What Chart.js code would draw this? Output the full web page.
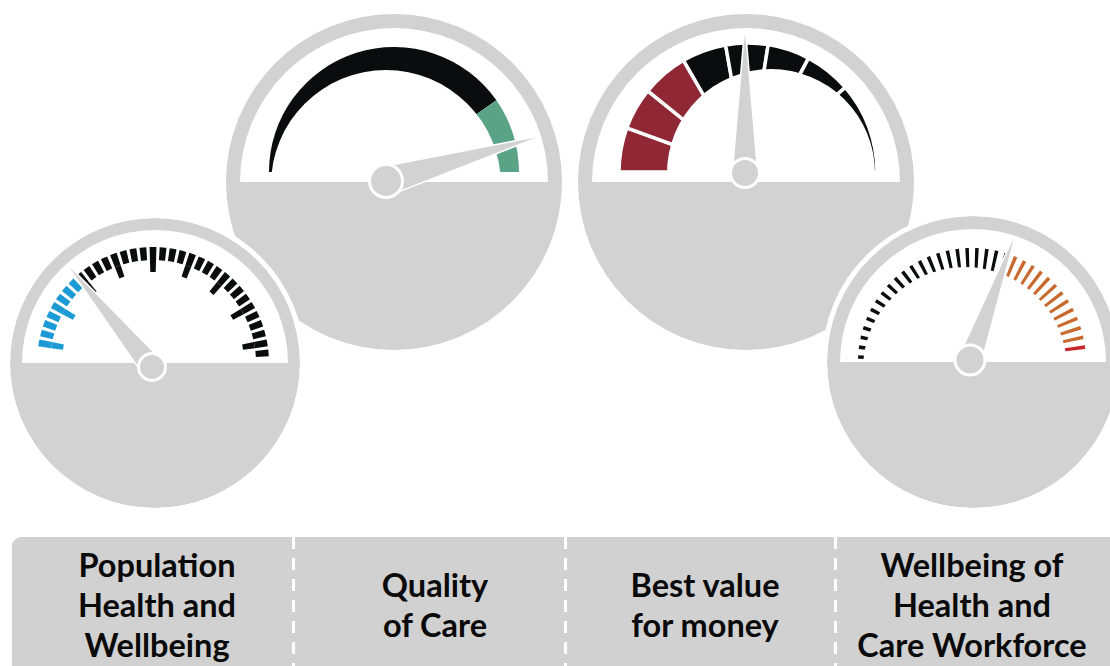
<!DOCTYPE html>
<html>
<head>
<meta charset="utf-8">
<script src="https://cdn.jsdelivr.net/npm/chart.js@4.4.1/dist/chart.umd.min.js"></script>
<style>
html,body{margin:0;padding:0;background:#fff;width:1110px;height:666px;overflow:hidden;}
#stage{position:relative;width:1110px;height:666px;overflow:hidden;}
canvas.layer{position:absolute;}
#bar{position:absolute;left:12px;top:537px;width:1120px;height:140px;background:#d1d1d1;border-radius:9px;}
.lbl{position:absolute;top:537px;height:136px;display:flex;align-items:center;justify-content:center;text-align:center;
  font-family:Lato,"Open Sans",sans-serif;font-weight:700;font-size:32.5px;line-height:40px;color:#0a0a0a;
  transform:translateX(-50%);white-space:nowrap;}
.sep{position:absolute;top:537px;width:3px;height:140px;
  background:repeating-linear-gradient(to bottom,#fff 0 12px,rgba(255,255,255,0) 12px 21px);}
</style>
</head>
<body>
<div id="stage"></div>
<script>
// ---------------- data ----------------
const categories = ['Population Health and Wellbeing','Quality of Care','Best value for money','Wellbeing of Health and Care Workforce'];
const labelLines = [['Population','Health and','Wellbeing'],['Quality','of Care'],['Best value','for money'],['Wellbeing of','Health and','Care Workforce']];
const labelCenters = [157, 435, 705, 972];
const separators = [293, 565, 835];

// needle readings, % of the dial sweep (0 = far left, 100 = far right)
const needleValues = [28, 91, 50, 61];

// Quality of Care dial bands (degrees of sweep, left to right)
const qualityBands = [145, 35];
const qualityColors = ['#0b0c0e', '#5ba387'];

// Best value for money dial bands (degrees of sweep, left to right)
const valueBands = [20, 19, 21, 20, 19, 19, 21, 41];
const valueColors = ['#8f2834','#8f2834','#8f2834','#0b0c0e','#0b0c0e','#0b0c0e','#0b0c0e','#0b0c0e'];

// Population Health dial tick marks (angle in degrees, 180 = left, 0 = right)
const popTickAngles = [170,165,160,155,150,145,140,135,130,125,120,115,110,105,100,95,90,85,80,75,70,65,60,55,50,45,40,35,30,25,20,15,10,5];
const popMajorTicks = [170,150,130,110,90,70,50,30,10];
const popBlueFrom = 135;      // ticks at or above this angle are blue

// Workforce dial tick marks
const workTickAngles = [177.5,172.5,167.5,162.5,157.5,152.5,147.5,142.5,137.5,132.5,127.5,122.5,117.5,112.5,107.5,102.5,97.5,92.5,87.5,82.5,77.5,72.5,67.5,62.5,57.5,52.5,47.5,42.5,37.5,32.5,27.5,22.5,17.5,12.5,7.5];
const workOrangeFrom = 67.5;  // ticks at or below this angle are orange
const workRedTick = 7.5;

// ---------------- styling ----------------
const GRAY = '#d2d2d2', WHITE = '#ffffff', NONE = 'rgba(0,0,0,0)';
const BLUE = '#1b9ad6', BLACK = '#0b0c0e', ORANGE = '#c8692d', RED = '#c9262a';

const stage = document.getElementById('stage');

const needlePlugin = {
  id: 'needle',
  afterDatasetsDraw(chart, args, o) {
    if (!o || o.value === undefined) return;
    const arc = chart.getDatasetMeta(0).data[0];
    const ctx = chart.ctx;
    const cx = arc.x + o.hubDx, cy = arc.y + o.hubDy;
    const ang = Math.PI - o.value / 100 * Math.PI;
    const ux = Math.cos(ang), uy = -Math.sin(ang);
    const px = -uy, py = ux;
    ctx.save();
    ctx.beginPath();
    ctx.moveTo(cx + px * o.halfWidth, cy + py * o.halfWidth);
    ctx.lineTo(cx + ux * o.length, cy + uy * o.length);
    ctx.lineTo(cx - px * o.halfWidth, cy - py * o.halfWidth);
    ctx.closePath();
    ctx.lineWidth = 3; ctx.strokeStyle = WHITE; ctx.lineJoin = 'round'; ctx.stroke();
    ctx.fillStyle = GRAY; ctx.fill();
    ctx.beginPath();
    ctx.arc(cx, cy, o.hubR, 0, Math.PI * 2);
    ctx.fillStyle = GRAY; ctx.fill();
    ctx.lineWidth = 3; ctx.strokeStyle = WHITE; ctx.stroke();
    ctx.restore();
  }
};

function layer(cx, cy, radius, cutoutPx, datasets, needle) {
  let size = Math.ceil(2 * radius + 10); if (size % 2) size++;
  const c = document.createElement('canvas');
  c.width = size; c.height = size; c.className = 'layer';
  c.style.left = (cx - size / 2) + 'px'; c.style.top = (cy - size / 2) + 'px';
  c.style.width = size + 'px'; c.style.height = size + 'px';
  stage.appendChild(c);
  return new Chart(c, {
    type: 'doughnut',
    data: { datasets: datasets },
    options: {
      responsive: false, animation: false, events: [], devicePixelRatio: 1,
      rotation: -90, circumference: 360,
      radius: radius, cutout: (cutoutPx / radius * 100) + '%',
      layout: { padding: 0 },
      plugins: { legend: { display: false }, tooltip: { enabled: false }, needle: needle || {} }
    },
    plugins: [needlePlugin]
  });
}

function ds(data, colors, weight, border) {
  return {
    data: data, backgroundColor: colors, weight: weight,
    borderWidth: colors.map(c => (c === NONE ? 0 : (border || 0))),
    borderColor: WHITE, hoverOffset: 0
  };
}

// full gray dial body (with white outline for dials that sit in front)
function base(cx, cy, rg, outline) {
  const sets = [];
  if (outline) sets.push(ds([360], [WHITE], outline));
  sets.push(ds([360], [GRAY], rg));
  layer(cx, cy, rg + outline, 0, sets);
}
// white top-half face
function face(cx, cy, rf) {
  layer(cx, cy, rf, 0, [ds([180, 180], [WHITE, NONE], 1)]);
}
// gray lower half + needle/hub on top
function cover(cx, cy, rf, needle) {
  layer(cx, cy, rf + 3, 0, [ds([180, 180], [NONE, GRAY], 1)], needle);
}
// builds a ring of tick marks from tick angles
function tickRing(angles, width, colorFn) {
  const data = [], colors = [];
  let prev = 180;
  angles.forEach(a => {
    data.push(prev - (a + width / 2)); colors.push(NONE);
    data.push(width); colors.push(colorFn(a));
    prev = a - width / 2;
  });
  data.push(prev); colors.push(NONE);
  data.push(180); colors.push(NONE);
  return { data, colors };
}
function bandRing(values, colors) {
  return { data: values.concat([180]), colors: colors.concat([NONE]) };
}

// ---------- Gauge 2: Quality of Care (behind) ----------
base(394, 182, 168, 0);
face(394, 182, 154);
{
  const b = bandRing(qualityBands, qualityColors);
  layer(394, 172, 125, 0, [ds(b.data, b.colors, 1, 0)]);
  layer(386, 185, 115, 0, [ds([180, 180], [WHITE, NONE], 1)]);
}
cover(394, 182, 154, { value: needleValues[1], length: 155, hubDx: -8, hubDy: -1, halfWidth: 14, hubR: 16.5 });

// ---------- Gauge 3: Best value for money (behind) ----------
base(746, 182, 168, 0);
face(746, 182, 154);
{
  const b = bandRing(valueBands, valueColors);
  layer(748, 172, 129, 0, [ds(b.data, b.colors, 1, 3.5)]);
  layer(771, 173, 104, 0, [ds([180, 180], [WHITE, NONE], 1)]);
}
cover(746, 182, 154, { value: needleValues[2], length: 140, hubDx: -1, hubDy: -9, halfWidth: 12, hubR: 14.5 });

// ---------- Gauge 1: Population Health and Wellbeing (front) ----------
base(155, 363, 145, 5);
face(155, 363, 133);
{
  const outer = tickRing(popTickAngles, 3.4, a => (a >= popBlueFrom ? BLUE : BLACK));
  const inner = tickRing(popTickAngles, 3.4, a => (popMajorTicks.includes(a) ? (a >= popBlueFrom ? BLUE : BLACK) : NONE));
  layer(153, 363, 116, 91, [ds(outer.data, outer.colors, 13, 0), ds(inner.data, inner.colors, 12, 0)]);
}
cover(155, 363, 133, { value: needleValues[0], length: 129, hubDx: -3, hubDy: 4, halfWidth: 11, hubR: 13.5 });

// ---------- Gauge 4: Wellbeing of Health and Care Workforce (front) ----------
base(973, 362, 146, 5);
face(973, 362, 133);
{
  const t = tickRing(workTickAngles, 1.8, a => (a === workRedTick ? RED : (a <= workOrangeFrom ? ORANGE : BLACK)));
  layer(972, 362, 114, 0, [ds(t.data, t.colors, 1, 0)]);
  layer(965, 369, 102, 0, [ds([180, 180], [WHITE, NONE], 1)]);
}
cover(973, 362, 133, { value: needleValues[3], length: 130, hubDx: -3, hubDy: -2, halfWidth: 11, hubR: 15 });

// ---------- label bar ----------
const bar = document.createElement('div'); bar.id = 'bar'; stage.appendChild(bar);
separators.forEach(x => {
  const s = document.createElement('div'); s.className = 'sep'; s.style.left = (x - 1.5) + 'px'; stage.appendChild(s);
});
labelLines.forEach((lines, i) => {
  const d = document.createElement('div'); d.className = 'lbl';
  d.style.left = labelCenters[i] + 'px';
  d.setAttribute('title', categories[i]);
  d.innerHTML = lines.join('<br>');
  stage.appendChild(d);
});
</script>
</body>
</html>
